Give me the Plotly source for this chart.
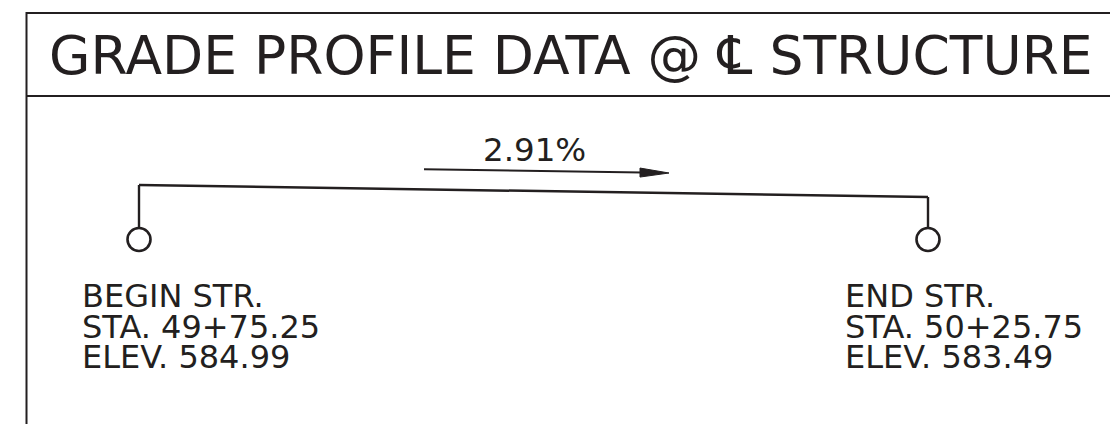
import plotly.graph_objects as go

# ---- data ----
TITLE = "GRADE PROFILE DATA @ \u2104 STRUCTURE"
POINT_NAMES = ["BEGIN STR.", "END STR."]
STATIONS = [4975.25, 5025.75]          # ft (49+75.25, 50+25.75)
STATION_LABELS = ["49+75.25", "50+25.75"]
ELEVATIONS = [584.99, 583.49]
GRADE_LABEL = "2.91%"

# ---- layout constants (pixels) ----
W, H = 1110, 424
INK = "#231f20"
FONT = "DejaVu Sans"
X_PX = [139, 928]       # where the two stations sit horizontally
Y_PX = [185, 197]       # where the two elevations sit vertically
CIRCLE_PX = 239.5

xs_per_px = (STATIONS[1] - STATIONS[0]) / (X_PX[1] - X_PX[0])
x0 = STATIONS[0] - X_PX[0] * xs_per_px
x1 = x0 + W * xs_per_px
ys_per_px = (ELEVATIONS[0] - ELEVATIONS[1]) / (Y_PX[1] - Y_PX[0])
ytop = ELEVATIONS[0] + Y_PX[0] * ys_per_px
ybot = ytop - H * ys_per_px


def X(px):
    return x0 + px * xs_per_px


def Y(py):
    return ytop - py * ys_per_px


def PX(px):
    return px / W


def PY(py):
    return 1 - py / H


fig = go.Figure()

# drops from the profile to the circles
for s, e in zip(STATIONS, ELEVATIONS):
    fig.add_trace(go.Scatter(x=[s, s], y=[e, Y(CIRCLE_PX)], mode="lines",
                             line=dict(color=INK, width=2.4), hoverinfo="skip"))
# profile line
fig.add_trace(go.Scatter(x=STATIONS, y=ELEVATIONS, mode="lines",
                         line=dict(color=INK, width=2.5), hoverinfo="skip"))
# circles
fig.add_trace(go.Scatter(x=STATIONS, y=[Y(CIRCLE_PX)] * 2, mode="markers",
                         marker=dict(symbol="circle", size=23, color="white",
                                     line=dict(color=INK, width=2.6)),
                         hoverinfo="skip"))

shapes = []
# frame
shapes.append(dict(type="line", xref="paper", yref="paper", x0=PX(26.5), x1=PX(1120),
                   y0=PY(13), y1=PY(13), line=dict(color=INK, width=2)))
shapes.append(dict(type="line", xref="paper", yref="paper", x0=PX(26.5), x1=PX(1120),
                   y0=PY(96), y1=PY(96), line=dict(color=INK, width=2)))
shapes.append(dict(type="line", xref="paper", yref="paper", x0=PX(26.5), x1=PX(26.5),
                   y0=PY(12), y1=PY(430), line=dict(color=INK, width=2)))

# grade arrow (parallel to profile)
slope = (Y_PX[1] - Y_PX[0]) / (X_PX[1] - X_PX[0])
ax0, ax1 = 424, 669
ay1 = 173.0
ay0 = ay1 - (ax1 - ax0) * slope
hb = ax1 - 29
hby = ay1 - 29 * slope
shapes.append(dict(type="line", xref="x", yref="y", x0=X(ax0), y0=Y(ay0), x1=X(hb + 2),
                   y1=Y(hby + 0.05), line=dict(color=INK, width=2)))
path = "M {} {} L {} {} L {} {} Z".format(X(ax1), Y(ay1), X(hb), Y(hby - 4.5),
                                           X(hb), Y(hby + 4.5))
shapes.append(dict(type="path", xref="x", yref="y", path=path, fillcolor=INK,
                   line=dict(color=INK, width=1)))

ann = []
ann.append(dict(text=TITLE, xref="paper", yref="paper", x=PX(47), y=PY(55),
                xanchor="left", yanchor="middle", showarrow=False,
                font=dict(family=FONT, size=53.5, color=INK)))
ann.append(dict(text=GRADE_LABEL, xref="paper", yref="paper", x=PX(534), y=PY(149.5),
                xanchor="center", yanchor="middle", showarrow=False,
                font=dict(family=FONT, size=32.5, color=INK)))

text_left = [80, 843]
baselines = [307, 338, 368]
for i in range(2):
    lines = [POINT_NAMES[i], "STA. " + STATION_LABELS[i],
             "ELEV. {:.2f}".format(ELEVATIONS[i])]
    for ln, b in zip(lines, baselines):
        ann.append(dict(text=ln, xref="paper", yref="paper", x=PX(text_left[i]),
                        y=PY(b - 0.3645 * 31), xanchor="left", yanchor="middle",
                        showarrow=False, font=dict(family=FONT, size=32, color=INK)))

fig.update_layout(
    width=W, height=H, margin=dict(l=0, r=0, t=0, b=0),
    paper_bgcolor="white", plot_bgcolor="white", showlegend=False,
    xaxis=dict(range=[x0, x1], visible=False, fixedrange=True),
    yaxis=dict(range=[ybot, ytop], visible=False, fixedrange=True),
    shapes=shapes, annotations=ann,
)

fig.write_html("out.html", config={"displayModeBar": False},
               post_script="document.body.style.margin='0';"
                           "document.body.style.overflow='hidden';")
